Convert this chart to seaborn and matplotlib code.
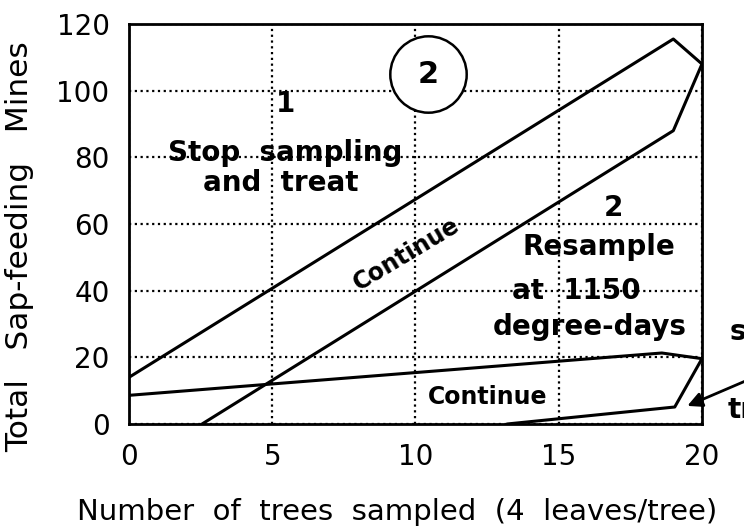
import numpy as np
import pandas as pd
import matplotlib
matplotlib.use("Agg")
import matplotlib.pyplot as plt
import seaborn as sns

# decision boundaries (trees sampled, total mines)
stop_x = [0, 19, 20]
stop_y = [14, 115.5, 108]
resample_x = [2.55, 19, 20]
resample_y = [0, 88, 108]
upper2_x = [0, 18.6, 20]
upper2_y = [8.6, 21.3, 19.6]
lower2_x = [13.2, 19.05, 20]
lower2_y = [0, 5.1, 19.6]

x_ticks = [0, 5, 10, 15, 20]
y_ticks = [0, 20, 40, 60, 80, 100, 120]

sns.set_style("white")
plt.rcParams["font.family"] = ["DejaVu Sans"]
plt.rcParams["text.color"] = "black"
plt.rcParams["axes.labelcolor"] = "black"

fig = plt.figure(figsize=(7.44, 5.29), dpi=100)
ax = fig.add_axes([0.1734, 0.1985, 0.7701, 0.7561])

for xs, ys in [(stop_x, stop_y), (resample_x, resample_y),
               (upper2_x, upper2_y), (lower2_x, lower2_y)]:
    sns.lineplot(x=xs, y=ys, ax=ax, color="black", linewidth=2.2,
                 estimator=None, sort=False, zorder=3)

ax.set_xlim(0, 20)
ax.set_ylim(0, 120)
ax.set_xticks(x_ticks)
ax.set_yticks(y_ticks)
ax.set_xticks(np.arange(0, 21, 1), minor=True)
ax.set_yticks(np.arange(0, 121, 5), minor=True)
ax.tick_params(which="both", direction="in", width=1.5, labelsize=20,
               colors="black", top=False, right=False)
ax.tick_params(which="major", length=7, pad=14)
ax.tick_params(which="minor", length=7)
ax.grid(True, which="major", color="black", linestyle=(0, (1, 1.6)),
        linewidth=1.6)
for side in ["left", "right", "top", "bottom"]:
    ax.spines[side].set_color("black")
    ax.spines[side].set_linewidth(2)

ax.set_xlabel("Number  of  trees  sampled  (4  leaves/tree)", fontsize=21)
ax.set_ylabel("Total   Sap-feeding   Mines", fontsize=22.5)
ax.xaxis.set_label_coords(0.468, -0.185)
ax.yaxis.set_label_coords(-0.166, 0.4425)

bold = dict(fontsize=20, fontweight="bold", ha="center", va="center")

# circled panel number
ax.plot([10.45], [105], marker="o", markersize=55, markerfacecolor="white",
        markeredgecolor="black", markeredgewidth=1.8, zorder=4, clip_on=False)
ax.text(10.45, 105, "2", zorder=5, fontsize=22, fontweight="bold",
        ha="center", va="center")

ax.text(5.45, 96, "1", **bold)
ax.text(5.45, 81.3, "Stop  sampling", **bold)
ax.text(5.3, 72.3, "and  treat", **bold)
ax.text(9.7, 51, "Continue", rotation=31, rotation_mode="anchor",
        fontsize=17, fontweight="bold", ha="center", va="center")

ax.text(16.9, 64.8, "2", **bold)
ax.text(16.4, 53.1, "Resample", **bold)
ax.text(15.6, 39.9, "at  1150", **bold)
ax.text(16.1, 29.1, "degree-days", **bold)
ax.text(12.53, 8, "Continue", fontsize=17, fontweight="bold",
        ha="center", va="center")

ax.text(20.95, 27.6, "s", fontsize=20, fontweight="bold", ha="left",
        va="center")
ax.text(20.9, 4.2, "tr", fontsize=20, fontweight="bold", ha="left",
        va="center")
ax.annotate("", xy=(19.4, 5.1), xytext=(21.6, 13.2),
            arrowprops=dict(arrowstyle="-|>", color="black", lw=2,
                            mutation_scale=22),
            annotation_clip=False)

fig.savefig("out.png", dpi=100)
